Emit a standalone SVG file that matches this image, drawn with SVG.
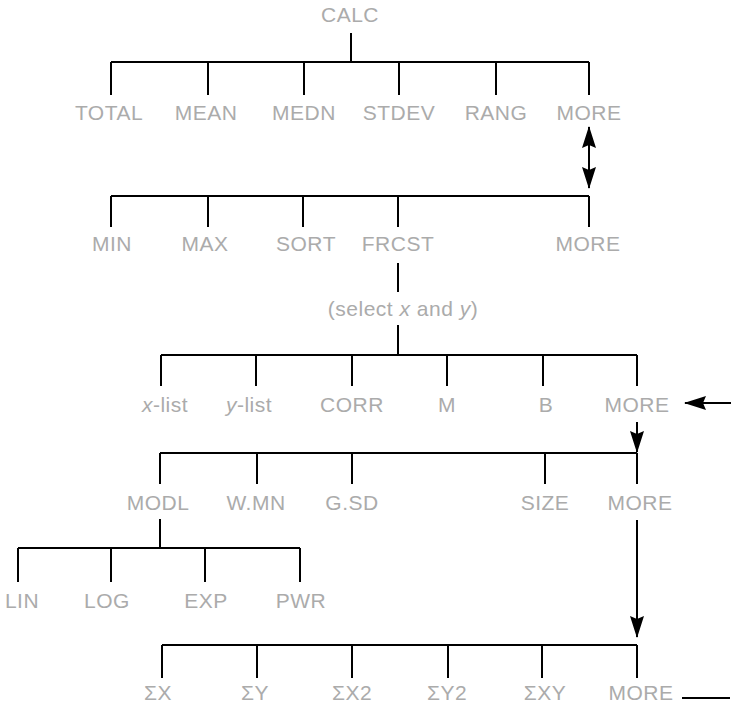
<svg xmlns="http://www.w3.org/2000/svg" width="731" height="709" viewBox="0 0 731 709">
<style>
.l{stroke:#000;stroke-width:2;fill:none}
.t{font-family:"Liberation Sans",Arial,sans-serif;font-size:21px;fill:#ababab;text-anchor:middle;letter-spacing:0.5px}
.i{font-style:italic}
</style>
<defs>
<marker id="ah" viewBox="0 0 22 14" refX="21" refY="7" markerWidth="22" markerHeight="14" markerUnits="userSpaceOnUse" orient="auto">
<path d="M0,0 L22,7 L0,14 L3,7 Z" fill="#000"/>
</marker>
</defs>
<g id="connectors">
<path class="l" d="M351,33 V62 M111,62 H589 M111,62 V95 M208,62 V95 M304,62 V95 M399,62 V95 M496,62 V95 M589,62 V95"/>
<path class="l" d="M111,196 H589 M111,196 V227 M208,196 V227 M303,196 V227 M398,196 V227 M589,196 V227"/>
<path class="l" d="M398,263 V292 M398,325 V355 M161,355 H637 M161,355 V386 M256,355 V386 M352,355 V386 M447,355 V386 M543,355 V386 M637,355 V386"/>
<path class="l" d="M160,453 H637 M160,453 V484 M257,453 V484 M352,453 V484 M545,453 V484 M637,453 V484"/>
<path class="l" d="M160,519 V548 M18,548 H300 M18,548 V582 M111,548 V582 M205,548 V582 M300,548 V582"/>
<path class="l" d="M162,645 H637 M162,645 V678 M257,645 V678 M352,645 V678 M448,645 V678 M542,645 V678 M637,645 V678"/>
<path class="l" d="M589,157 V127" marker-end="url(#ah)"/>
<path class="l" d="M589,157 V188" marker-end="url(#ah)"/>
<path class="l" d="M731,403 H685" marker-end="url(#ah)"/>
<path class="l" d="M637,422 V452" marker-end="url(#ah)"/>
<path class="l" d="M637,520 V637" marker-end="url(#ah)"/>
<path class="l" d="M682,698 H730"/>
</g>
<g id="n-calc"><text class="t" x="350" y="22">CALC</text></g>
<g id="n-total"><text class="t" x="109" y="120">TOTAL</text></g>
<g id="n-mean"><text class="t" x="206" y="120">MEAN</text></g>
<g id="n-medn"><text class="t" x="304" y="120">MEDN</text></g>
<g id="n-stdev"><text class="t" x="399" y="120">STDEV</text></g>
<g id="n-rang"><text class="t" x="496" y="120">RANG</text></g>
<g id="n-more1"><text class="t" x="589" y="120">MORE</text></g>
<g id="n-min"><text class="t" x="112" y="251">MIN</text></g>
<g id="n-max"><text class="t" x="205" y="251">MAX</text></g>
<g id="n-sort"><text class="t" x="306" y="251">SORT</text></g>
<g id="n-frcst"><text class="t" x="398" y="251">FRCST</text></g>
<g id="n-more2"><text class="t" x="588" y="251">MORE</text></g>
<g id="n-select"><text class="t" x="403" y="316">(select <tspan class="i">x</tspan> and <tspan class="i">y</tspan>)</text></g>
<g id="n-xlist"><text class="t" x="165" y="412"><tspan class="i">x</tspan>-list</text></g>
<g id="n-ylist"><text class="t" x="249" y="412"><tspan class="i">y</tspan>-list</text></g>
<g id="n-corr"><text class="t" x="352" y="412">CORR</text></g>
<g id="n-m"><text class="t" x="447" y="412">M</text></g>
<g id="n-b"><text class="t" x="546" y="412">B</text></g>
<g id="n-more3"><text class="t" x="637" y="412">MORE</text></g>
<g id="n-modl"><text class="t" x="158" y="510">MODL</text></g>
<g id="n-wmn"><text class="t" x="256" y="510">W.MN</text></g>
<g id="n-gsd"><text class="t" x="352" y="510">G.SD</text></g>
<g id="n-size"><text class="t" x="545" y="510">SIZE</text></g>
<g id="n-more4"><text class="t" x="640" y="510">MORE</text></g>
<g id="n-lin"><text class="t" x="22" y="608">LIN</text></g>
<g id="n-log"><text class="t" x="107" y="608">LOG</text></g>
<g id="n-exp"><text class="t" x="206" y="608">EXP</text></g>
<g id="n-pwr"><text class="t" x="301" y="608">PWR</text></g>
<g id="n-sx"><text class="t" x="158" y="700">ΣX</text></g>
<g id="n-sy"><text class="t" x="255" y="700">ΣY</text></g>
<g id="n-sx2"><text class="t" x="352" y="700">ΣX2</text></g>
<g id="n-sy2"><text class="t" x="447" y="700">ΣY2</text></g>
<g id="n-sxy"><text class="t" x="545" y="700">ΣXY</text></g>
<g id="n-more5"><text class="t" x="641" y="700">MORE</text></g>
</svg>
